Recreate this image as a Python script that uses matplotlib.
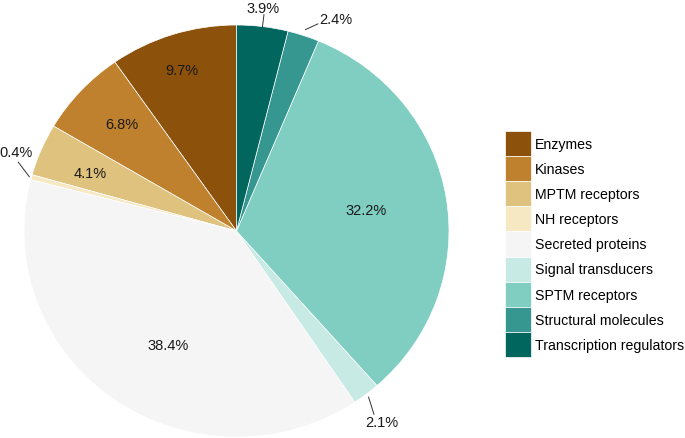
import numpy as np
import matplotlib
matplotlib.use("Agg")
import matplotlib.pyplot as plt

plt.rcParams["font.family"] = ["Liberation Sans", "DejaVu Sans"]

categories = [
    "Enzymes", "Kinases", "MPTM receptors", "NH receptors", "Secreted proteins",
    "Signal transducers", "SPTM receptors", "Structural molecules", "Transcription regulators",
]
shares = [9.7, 6.8, 4.1, 0.4, 38.4, 2.1, 32.2, 2.4, 3.9]
colors = ["#8c510a", "#bf812d", "#dfc27d", "#f6e8c3", "#f5f5f5",
          "#c7eae5", "#80cdc1", "#35978f", "#01665e"]

# label placement: radius, angle nudge (deg), outside flag
label_r = [0.82, 0.75, 0.745, 1.106, 0.64, 1.153, 0.62, 1.13, 1.09]
label_dang = [0.7, -1.2, 0.9, -5.2, 5, -1.1, 0.3, -6.1, 0.4]
outside = [False, False, False, True, False, True, False, True, True]
# leader lines: start radius, end radius, end angle nudge (deg)
lead_r0 = [0, 0, 0, 1.01, 0, 1.018, 0, 1.03, 1.0]
lead_r1 = [0, 0, 0, 1.08, 0, 1.10, 0, 1.076, 1.058]
lead_dang = [0, 0, 0, -2.9, 0, -1.6, 0, -2.5, 0]

W, H = 685, 439
fig = plt.figure(figsize=(W / 100, H / 100), dpi=100)
ax = fig.add_axes([24 / W, 1 / H, 425 / W, 412 / H])

wedges, _ = ax.pie(shares, colors=colors, startangle=90, counterclock=True,
                   radius=1, wedgeprops=dict(edgecolor="white", linewidth=0.5))
ax.set_aspect("auto")
ax.set_xlim(-1, 1)
ax.set_ylim(-1, 1)
ax.axis("off")

for i, (w, val) in enumerate(zip(wedges, shares)):
    mid = np.deg2rad((w.theta1 + w.theta2) / 2)
    ang = mid + np.deg2rad(label_dang[i])
    tx, ty = label_r[i] * np.cos(ang), label_r[i] * np.sin(ang)
    if outside[i]:
        a1 = mid + np.deg2rad(lead_dang[i])
        ax.plot([lead_r0[i] * np.cos(mid), lead_r1[i] * np.cos(a1)],
                [lead_r0[i] * np.sin(mid), lead_r1[i] * np.sin(a1)],
                color="#333333", linewidth=0.7, clip_on=False)
    ax.text(tx, ty, f"{val}%", ha="center", va="center", fontsize=10.5,
            color="#1a1a1a", clip_on=False)

fig.legend(wedges, categories, loc="upper left",
           bbox_to_anchor=(505 / W, 1 - 132 / H), frameon=False,
           fontsize=10.2, borderpad=0, borderaxespad=0, labelspacing=0,
           handlelength=1.87, handleheight=2.35, handletextpad=0.25)

fig.savefig("out.png", dpi=100)
